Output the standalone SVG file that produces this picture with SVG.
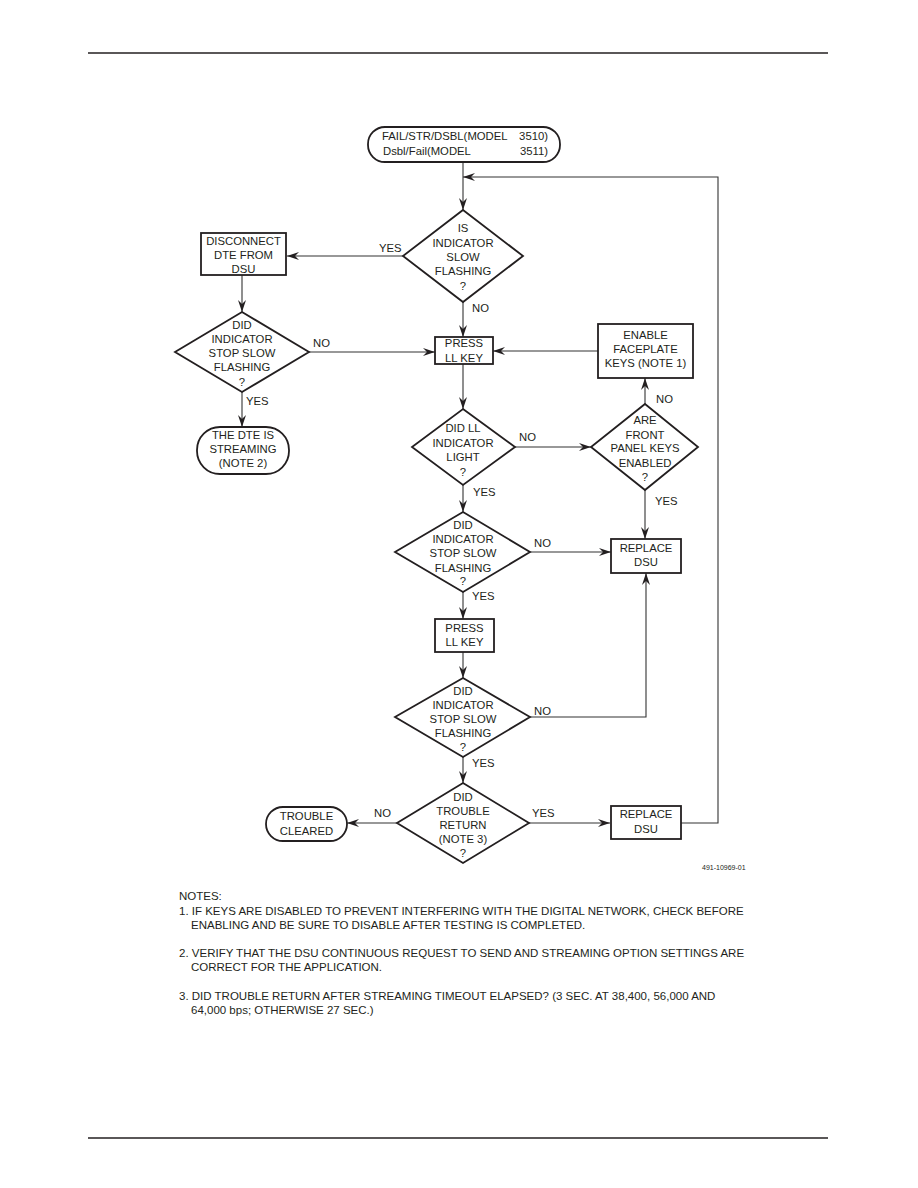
<svg xmlns="http://www.w3.org/2000/svg" width="918" height="1188" viewBox="0 0 918 1188">
<style>
.n{fill:#fff;stroke:#231f20;stroke-width:1.8}
.c{fill:none;stroke:#333;stroke-width:1.1}
.t{font-family:"Liberation Sans",Arial,sans-serif;font-size:11.3px;fill:#231f20;text-anchor:middle}
.l{font-family:"Liberation Sans",Arial,sans-serif;font-size:11.3px;fill:#231f20}
.nt{font-family:"Liberation Sans",Arial,sans-serif;font-size:11.5px;fill:#231f20}
.id{font-family:"Liberation Sans",Arial,sans-serif;font-size:7px;fill:#231f20}
.rule{stroke:#231f20;stroke-width:1.3}
</style>
<defs>
<marker id="ah" viewBox="0 0 12 8" refX="12" refY="4" markerWidth="12" markerHeight="8" orient="auto" markerUnits="userSpaceOnUse">
<path d="M0,0 L12,4 L0,8 L4,4 z" fill="#231f20"/>
</marker>
</defs>
<rect width="918" height="1188" fill="#fff"/>
<line class="rule" x1="88" y1="53" x2="828" y2="53"/>
<line class="rule" x1="88" y1="1138" x2="828" y2="1138"/>

<g id="connectors">
<path class="c" d="M463,162 V210" marker-end="url(#ah)"/>
<path class="c" d="M681,823 H718 V177 H463" marker-end="url(#ah)"/>
<path class="c" d="M403,256 H287" marker-end="url(#ah)"/>
<path class="c" d="M463,302 V337" marker-end="url(#ah)"/>
<path class="c" d="M242,275 V312" marker-end="url(#ah)"/>
<path class="c" d="M309,352 H435" marker-end="url(#ah)"/>
<path class="c" d="M242,392 V427" marker-end="url(#ah)"/>
<path class="c" d="M598,351 H493" marker-end="url(#ah)"/>
<path class="c" d="M463,364 V409" marker-end="url(#ah)"/>
<path class="c" d="M515,447 H591" marker-end="url(#ah)"/>
<path class="c" d="M645,404 V378" marker-end="url(#ah)"/>
<path class="c" d="M645,490 V539" marker-end="url(#ah)"/>
<path class="c" d="M463,485 V512" marker-end="url(#ah)"/>
<path class="c" d="M530,552 H611" marker-end="url(#ah)"/>
<path class="c" d="M463,592 V619" marker-end="url(#ah)"/>
<path class="c" d="M463,652 V678" marker-end="url(#ah)"/>
<path class="c" d="M530,717 H646 V573" marker-end="url(#ah)"/>
<path class="c" d="M463,757 V783" marker-end="url(#ah)"/>
<path class="c" d="M397,823 H347" marker-end="url(#ah)"/>
<path class="c" d="M529,823 H610" marker-end="url(#ah)"/>
<text class="l" x="379" y="252">YES</text>
<text class="l" x="472" y="312">NO</text>
<text class="l" x="313" y="347">NO</text>
<text class="l" x="246" y="405">YES</text>
<text class="l" x="519" y="441">NO</text>
<text class="l" x="656" y="403">NO</text>
<text class="l" x="655" y="505">YES</text>
<text class="l" x="473" y="496">YES</text>
<text class="l" x="534" y="547">NO</text>
<text class="l" x="472" y="600">YES</text>
<text class="l" x="534" y="715">NO</text>
<text class="l" x="472" y="767">YES</text>
<text class="l" x="374" y="817">NO</text>
<text class="l" x="532" y="817">YES</text>
</g>

<g id="start">
<rect class="n" x="368" y="127" width="192" height="35" rx="17" ry="17"/>
<text class="l" x="382" y="140">FAIL/STR/DSBL(MODEL</text>
<text class="l" x="548" y="140" text-anchor="end">3510)</text>
<text class="l" x="383" y="155">Dsbl/Fail(MODEL</text>
<text class="l" x="548" y="155" text-anchor="end">3511)</text>
</g>

<g id="d1">
<polygon class="n" points="463,210 523,256 463,302 403,256"/>
<text class="t" x="463" y="232">IS</text>
<text class="t" x="463" y="247">INDICATOR</text>
<text class="t" x="463" y="261">SLOW</text>
<text class="t" x="463" y="275">FLASHING</text>
<text class="t" x="463" y="290">?</text>
</g>

<g id="disconnect">
<rect class="n" x="201" y="233" width="85" height="42"/>
<text class="t" x="243.5" y="245">DISCONNECT</text>
<text class="t" x="243.5" y="259">DTE FROM</text>
<text class="t" x="243.5" y="273">DSU</text>
</g>

<g id="d2">
<polygon class="n" points="242,312 309,352 242,392 175,352"/>
<text class="t" x="242" y="329">DID</text>
<text class="t" x="242" y="343">INDICATOR</text>
<text class="t" x="242" y="357">STOP SLOW</text>
<text class="t" x="242" y="371">FLASHING</text>
<text class="t" x="242" y="386">?</text>
</g>

<g id="streaming">
<rect class="n" x="197" y="427" width="92" height="47" rx="23" ry="23"/>
<text class="t" x="243" y="439">THE DTE IS</text>
<text class="t" x="243" y="453">STREAMING</text>
<text class="t" x="243" y="467">(NOTE 2)</text>
</g>

<g id="press1">
<rect class="n" x="435" y="337" width="58" height="27"/>
<text class="t" x="464" y="347">PRESS</text>
<text class="t" x="464" y="362">LL KEY</text>
</g>

<g id="enable">
<rect class="n" x="598" y="324" width="95" height="54"/>
<text class="t" x="645.5" y="339">ENABLE</text>
<text class="t" x="645.5" y="353">FACEPLATE</text>
<text class="t" x="645.5" y="367">KEYS (NOTE 1)</text>
</g>

<g id="d3">
<polygon class="n" points="463,409 515,447 463,485 412,447"/>
<text class="t" x="463" y="432">DID LL</text>
<text class="t" x="463" y="447">INDICATOR</text>
<text class="t" x="463" y="461">LIGHT</text>
<text class="t" x="463" y="476">?</text>
</g>

<g id="d4">
<polygon class="n" points="645,404 698,447 645,490 591,447"/>
<text class="t" x="645" y="424">ARE</text>
<text class="t" x="645" y="439">FRONT</text>
<text class="t" x="645" y="452">PANEL KEYS</text>
<text class="t" x="645" y="467">ENABLED</text>
<text class="t" x="645" y="481">?</text>
</g>

<g id="d5">
<polygon class="n" points="463,512 530,552 463,592 395,552"/>
<text class="t" x="463" y="529">DID</text>
<text class="t" x="463" y="543">INDICATOR</text>
<text class="t" x="463" y="557">STOP SLOW</text>
<text class="t" x="463" y="572">FLASHING</text>
<text class="t" x="463" y="585">?</text>
</g>

<g id="replace1">
<rect class="n" x="611" y="539" width="70" height="34"/>
<text class="t" x="646" y="552">REPLACE</text>
<text class="t" x="646" y="566">DSU</text>
</g>

<g id="press2">
<rect class="n" x="435" y="619" width="59" height="33"/>
<text class="t" x="464.5" y="632">PRESS</text>
<text class="t" x="464.5" y="646">LL KEY</text>
</g>

<g id="d6">
<polygon class="n" points="463,678 530,717 463,757 395,717"/>
<text class="t" x="463" y="695">DID</text>
<text class="t" x="463" y="709">INDICATOR</text>
<text class="t" x="463" y="723">STOP SLOW</text>
<text class="t" x="463" y="737">FLASHING</text>
<text class="t" x="463" y="751">?</text>
</g>

<g id="d7">
<polygon class="n" points="463,783 529,823 463,863 397,823"/>
<text class="t" x="463" y="801">DID</text>
<text class="t" x="463" y="815">TROUBLE</text>
<text class="t" x="463" y="829">RETURN</text>
<text class="t" x="463" y="843">(NOTE 3)</text>
<text class="t" x="463" y="857">?</text>
</g>

<g id="cleared">
<rect class="n" x="266" y="807" width="81" height="34" rx="17" ry="17"/>
<text class="t" x="306.5" y="820">TROUBLE</text>
<text class="t" x="306.5" y="835">CLEARED</text>
</g>

<g id="replace2">
<rect class="n" x="611" y="806" width="70" height="33"/>
<text class="t" x="646" y="818">REPLACE</text>
<text class="t" x="646" y="833">DSU</text>
</g>

<text class="id" x="702" y="870">491-10969-01</text>

<g id="notes">
<text class="nt" x="179" y="900">NOTES:</text>
<text class="nt" x="179" y="915">1. IF KEYS ARE DISABLED TO PREVENT INTERFERING WITH THE DIGITAL NETWORK, CHECK BEFORE</text>
<text class="nt" x="191" y="929">ENABLING AND BE SURE TO DISABLE AFTER TESTING IS COMPLETED.</text>
<text class="nt" x="179" y="957">2. VERIFY THAT THE DSU CONTINUOUS REQUEST TO SEND AND STREAMING OPTION SETTINGS ARE</text>
<text class="nt" x="191" y="971">CORRECT FOR THE APPLICATION.</text>
<text class="nt" x="179" y="1000">3. DID TROUBLE RETURN AFTER STREAMING TIMEOUT ELAPSED? (3 SEC. AT 38,400, 56,000 AND</text>
<text class="nt" x="191" y="1014">64,000 bps; OTHERWISE 27 SEC.)</text>
</g>
</svg>
